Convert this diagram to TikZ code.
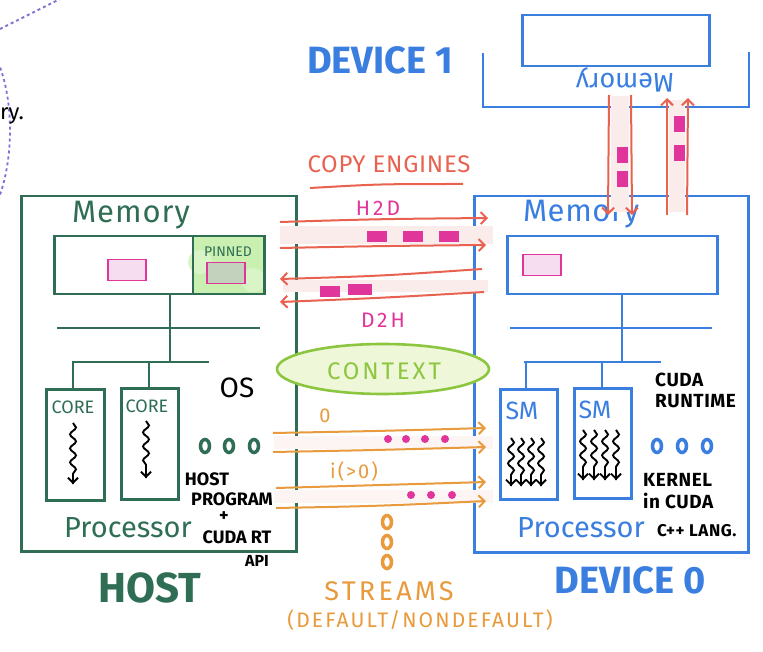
\documentclass[tikz,border=0pt]{standalone}
\usepackage{fontspec}
\setmainfont{Fira Sans}
\usetikzlibrary{arrows.meta,decorations.pathmorphing,shapes.geometric}
\definecolor{hostg}{HTML}{2F6E55}
\definecolor{devb}{HTML}{3A7EE0}
\definecolor{cered}{HTML}{E8624F}
\definecolor{mag}{HTML}{E0359A}
\definecolor{strm}{HTML}{E89A3C}
\definecolor{ctxg}{HTML}{8CC63F}
\definecolor{ctxfill}{HTML}{EEF7D8}
\definecolor{pinkf}{HTML}{F6DDF0}
\definecolor{bandf}{HTML}{FBECEC}
\definecolor{pinnedf}{HTML}{C9F0B0}
\definecolor{purp}{HTML}{7B72D8}
\begin{document}
\begin{tikzpicture}[x=1pt,y=-1pt,
  hline/.style={draw=hostg, line width=2.5pt},
  dline/.style={draw=devb, line width=2.5pt},
  hbox/.style={hline, inner sep=0pt, anchor=north west},
  dbox/.style={dline, inner sep=0pt, anchor=north west},
  celine/.style={draw=cered, line width=2pt, -{Straight Barb[length=6pt,width=12pt]}},
  stline/.style={draw=strm, line width=2pt, -{Straight Barb[length=6pt,width=12pt]}},
  chunk/.style={fill=mag, inner sep=0pt, minimum height=11pt, minimum width=20pt},
  vchunk/.style={fill=mag, inner sep=0pt, minimum height=16pt, minimum width=11pt},
  sdot/.style={circle, fill=mag, inner sep=0pt, minimum size=8pt},
  ring/.style={ellipse, draw=#1, line width=3.5pt, inner sep=0pt, minimum width=9pt, minimum height=13pt},
  wig/.style={draw=black, line width=1.9pt, decorate, decoration={snake, amplitude=3pt, segment length=14pt, post length=7pt}},
  wigtip/.style={-{Straight Barb[length=5pt,width=10pt]}},
  lbl/.style={inner sep=0pt},
  btxt/.style={lbl, font=\bfseries\fontsize{18}{20}\selectfont},
  rtxt/.style={lbl, font=\bfseries\fontsize{19}{20}\selectfont\addfontfeature{LetterSpace=3}},
  pinkbox/.style={draw=mag, fill=pinkf, line width=1.6pt, inner sep=0pt, minimum width=38pt, minimum height=21pt}
]
\useasboundingbox (0,0) rectangle (763,652);
\fill[white] (0,0) rectangle (763,652);

% partial cropped background
\draw[purp, line width=1.8pt, dashed] (0,29) -- (60,-1);
\draw[purp, line width=1.8pt, dashed] (-2,62) .. controls (14,100) and (14,160) .. (-2,200);
\node[lbl, anchor=west, font=\fontsize{22}{24}\selectfont] (cut) at (0,116) {ry.};

% ================= HOST =================
\node[hbox, minimum width=275pt, minimum height=355pt] (host) at (20,195) {};
\node[lbl, text=hostg, font=\fontsize{31}{32}\selectfont\addfontfeature{LetterSpace=3}] (hmemlbl) at (131,215) {Memory};
\fill[pinnedf] (193,235) rectangle (263,293);
\fill[pinnedf!70] (200,262) circle (12pt);
\fill[pinnedf!70] (253,280) circle (12pt);
\node[hbox, minimum width=210pt, minimum height=58pt] (hmem) at (53,235) {};
\draw[hline] (193,235) -- (193,293);
\node[lbl, text=hostg, font=\fontsize{14}{16}\selectfont] (pinned) at (228,252) {PINNED};
\node[pinkbox] (hpg) at (127,270) {};
\node[pinkbox, fill=hostg!20!pinnedf!60!gray!60] (hpin) at (226,273) {};
\coordinate (hbus1) at (170,328);
\coordinate (hbus2) at (170,362);
\draw[hline] (hmem.south -| hbus1) -- (hbus2);
\draw[hline] (57,328) -- (260,328);
\draw[hline] (72,362) -- (209,362);
\node[hbox, minimum width=58pt, minimum height=111pt] (core1) at (45,388) {};
\node[hbox, minimum width=57pt, minimum height=111pt] (core2) at (120,387) {};
\draw[hline] (core1.north -| 73,0) -- (73,362);
\draw[hline] (core2.north -| 149,0) -- (149,362);
\node[lbl, text=hostg, font=\fontsize{18}{18}\selectfont] (core1l) at (73,407) {CORE};
\node[lbl, text=hostg, font=\fontsize{18}{18}\selectfont] (core2l) at (147,406) {CORE};
\coordinate (w1a) at (73,423); \coordinate (w1b) at (73,484);
\coordinate (w2a) at (146,421); \coordinate (w2b) at (146,478);
\draw[wig] (w1a) -- (w1b); \draw[line width=1.9pt, wigtip] (73,477) -- (w1b);
\draw[wig] (w2a) -- (w2b); \draw[line width=1.9pt, wigtip] (146,471) -- (w2b);
\node[lbl, font=\fontsize{28}{28}\selectfont] (os) at (237,388) {OS};
\node[ring=hostg] (hd1) at (205,446) {};
\node[ring=hostg] (hd2) at (229,446) {};
\node[ring=hostg] (hd3) at (254,446) {};
\node[btxt] (hp1) at (207,479) {HOST};
\node[btxt] (hp2) at (232,499) {PROGRAM};
\node[btxt] (hp3) at (224,517) {+};
\node[btxt] (hp4) at (237,537) {CUDA RT};
\node[btxt, font=\bfseries\fontsize{16}{16}\selectfont] (hp5) at (257,561) {API};
\node[lbl, text=hostg, font=\fontsize{29}{30}\selectfont] (hproc) at (128,528) {Processor};
\node[lbl, text=hostg, font=\bfseries\fontsize{42}{44}\selectfont] (hostl) at (150,588) {HOST};

% ================= DEVICE 0 =================
\node[dbox, minimum width=274pt, minimum height=356pt] (dev0) at (473,195) {};
\node[lbl, text=devb, font=\fontsize{31}{32}\selectfont\addfontfeature{LetterSpace=2}] (dmemlbl) at (581,214) {Memory};
\node[dbox, minimum width=210pt, minimum height=58pt] (dmem) at (506,235) {};
\node[pinkbox] (dpg) at (542,265) {};
\coordinate (dbus1) at (622,328);
\coordinate (dbus2) at (622,362);
\draw[dline] (dmem.south -| dbus1) -- (dbus2);
\draw[dline] (510,328) -- (712,328);
\draw[dline] (524,362) -- (661,362);
\node[dbox, minimum width=57pt, minimum height=110pt] (sm1) at (499,388) {};
\node[dbox, minimum width=57pt, minimum height=110pt] (sm2) at (573,387) {};
\draw[dline] (sm1.north -| 526,0) -- (526,362);
\draw[dline] (sm2.north -| 602,0) -- (602,362);
\node[lbl, text=devb, font=\fontsize{25}{25}\selectfont] (sm1l) at (522,411) {SM};
\node[lbl, text=devb, font=\fontsize{25}{25}\selectfont] (sm2l) at (595,410) {SM};
\foreach \x in {511,521,531,541} {
  \draw[wig] (\x,438) -- (\x,486); \draw[line width=1.9pt, wigtip] (\x,479) -- (\x,486);
}
\foreach \x in {583,594,605,616} {
  \draw[wig] (\x,430) -- (\x,480); \draw[line width=1.9pt, wigtip] (\x,473) -- (\x,480);
}
\node[rtxt, anchor=west] (cr1) at (655,380) {CUDA};
\node[rtxt, anchor=west] (cr2) at (655,401) {RUNTIME};
\node[ring=devb] (dd1) at (657,446) {};
\node[ring=devb] (dd2) at (682,446) {};
\node[ring=devb] (dd3) at (707,446) {};
\node[rtxt, anchor=west] (k1) at (643,480) {KERNEL};
\node[rtxt, anchor=west] (k2) at (643,501) {in CUDA};
\node[rtxt, anchor=west, font=\bfseries\fontsize{17}{18}\selectfont\addfontfeature{LetterSpace=3}] (k3) at (657,531) {C++ LANG.};
\node[lbl, text=devb, font=\fontsize{29}{30}\selectfont] (dproc) at (581,528) {Processor};
\node[lbl, text=devb, font=\bfseries\fontsize{38}{40}\selectfont] (dev0l) at (630,580) {DEVICE 0};

% ================= DEVICE 1 =================
\node[dbox, minimum width=187pt, minimum height=51pt] (d1mem) at (521,14) {};
\coordinate (br1) at (483,53); \coordinate (br2) at (483,107);
\coordinate (br3) at (749,107); \coordinate (br4) at (749,52);
\draw[dline] (br1) -- (br2) -- (br3) -- (br4);
\node[lbl, text=devb, font=\fontsize{27}{28}\selectfont, rotate=180] (d1memlbl) at (625,80) {Memory};
\node[lbl, text=devb, font=\bfseries\fontsize{38}{40}\selectfont] (dev1l) at (380,60) {DEVICE 1};

% vertical copy paths device1 <-> device0
\fill[bandf] (611,96) rectangle (629,212);
\fill[bandf] (669,100) rectangle (685,212);
\draw[celine] (609,95) -- (608,215);
\draw[celine] (631,95) -- (632,215);
\draw[celine] (667,215) -- (667,98);
\draw[celine] (687,215) -- (688,98);
\node[vchunk] (vc1) at (622,155) {};
\node[vchunk] (vc2) at (622,179) {};
\node[vchunk] (vc3) at (679,124) {};
\node[vchunk] (vc4) at (679,153) {};

% ================= COPY ENGINES =================
\node[lbl, text=cered, font=\fontsize{24}{26}\selectfont\addfontfeature{LetterSpace=3}] (ce) at (389,164) {COPY ENGINES};
\draw[cered, line width=2pt] (310,188) .. controls (380,184) .. (463,184);
\node[lbl, text=mag, font=\fontsize{21}{22}\selectfont\addfontfeature{LetterSpace=15}] (h2d) at (378,208) {H2D};
\fill[bandf] (280,226) rectangle (493,244);
\draw[celine] (280,222) .. controls (380,219) .. (488,218);
\draw[celine] (280,248) .. controls (380,246) .. (486,245);
\node[chunk] (c1) at (377,237) {};
\node[chunk] (c2) at (413,237) {};
\node[chunk] (c3) at (449,237) {};
\fill[bandf] (283,280) rectangle (488,292);
\draw[celine] (482,269) .. controls (380,276) .. (280,279);
\draw[celine] (484,292) .. controls (380,298) .. (280,302);
\node[chunk] (c4) at (330,292) {};
\node[chunk, minimum width=24pt] (c5) at (360,290) {};
\node[lbl, text=mag, font=\fontsize{21}{22}\selectfont\addfontfeature{LetterSpace=15}] (d2h) at (383,320) {D2H};

% ================= CONTEXT =================
\node[ellipse, draw=ctxg, fill=ctxfill, line width=2.6pt, minimum width=212pt, minimum height=50pt] (ctx) at (383,369) {};
\node[lbl, text=ctxg, font=\fontsize{24}{26}\selectfont\addfontfeature{LetterSpace=12}] (ctxl) at (384,371) {CONTEXT};

% ================= STREAMS =================
\node[lbl, text=strm, font=\fontsize{20}{20}\selectfont] (s0) at (325,416) {0};
\fill[bandf!60] (274,436) rectangle (493,449);
\draw[stline] (273,433) .. controls (380,431) .. (486,428);
\draw[stline] (273,452) .. controls (380,450) .. (486,447);
\foreach \x in {388,406,425,445} \node[sdot] at (\x,439) {};
\node[lbl, text=strm, font=\fontsize{20}{20}\selectfont\addfontfeature{LetterSpace=10}] (si) at (354,471) {i(>0)};
\fill[bandf!60] (274,490) rectangle (493,503);
\draw[stline] (276,488) .. controls (380,486) .. (486,482);
\draw[stline] (276,508) .. controls (380,506) .. (486,501);
\foreach \x in {411,431,452} \node[sdot] at (\x,495) {};
\node[ring=strm] (sv1) at (387,522) {};
\node[ring=strm] (sv2) at (387,542) {};
\node[ring=strm] (sv3) at (387,562) {};
\node[lbl, text=strm, font=\fontsize{27}{28}\selectfont\addfontfeature{LetterSpace=12}] (streams) at (389,591) {STREAMS};
\node[lbl, text=strm, font=\fontsize{21}{22}\selectfont\addfontfeature{LetterSpace=10}] (sdef) at (420,620) {(DEFAULT/NONDEFAULT)};
\end{tikzpicture}
\end{document}
